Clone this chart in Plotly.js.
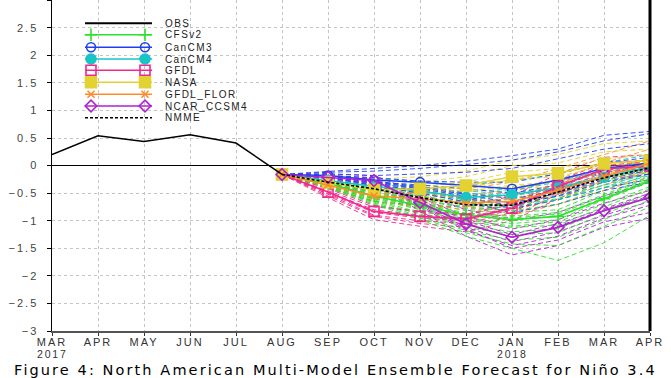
<!DOCTYPE html>
<html>
<head>
<meta charset="utf-8">
<script src="https://cdn.plot.ly/plotly-3.0.1.min.js"></script>
<style>
html,body{margin:0;padding:0;background:#fff;}
#chart{width:671px;height:378px;}
.xtick text, .ytick text{letter-spacing:2px;}
</style>
</head>
<body>
<div id="chart"></div>
<script>
// ---------- DATA ----------
const months = ['MAR','APR','MAY','JUN','JUL','AUG','SEP','OCT','NOV','DEC','JAN','FEB','MAR','APR'];
const yearLabels = ['2017','2018'];
const yearMonthIndex = [0,10];
const obsMonths = [0,1,2,3,4,5];           // MAR..AUG 2017
const obsValues = [0.20,0.54,0.44,0.56,0.41,-0.16];
const fcstMonths = [5,6,7,8,9,10,11,12,13]; // AUG 2017 .. APR 2018

const cfsv2Mean = [-0.16,-0.32,-0.55,-0.72,-0.90,-0.98,-0.92,-0.60,-0.28];
const cancm3Mean = [-0.16,-0.18,-0.26,-0.30,-0.36,-0.42,-0.26,-0.05,0.05];
const cancm4Mean = [-0.16,-0.27,-0.38,-0.46,-0.58,-0.53,-0.40,-0.21,-0.02];
const gfdlMean = [-0.16,-0.48,-0.83,-0.92,-0.97,-0.77,-0.38,-0.06,0.00];
const nasaMean = [-0.16,-0.30,-0.44,-0.42,-0.36,-0.20,-0.14,0.04,0.09];
const florMean = [-0.16,-0.35,-0.55,-0.60,-0.68,-0.65,-0.45,-0.20,0.05];
const ncarMean = [-0.16,-0.21,-0.27,-0.67,-1.06,-1.30,-1.12,-0.82,-0.58];
const nmmeMean = [-0.16,-0.30,-0.42,-0.58,-0.71,-0.72,-0.48,-0.22,-0.04];

const cfsv2Members = [
 [-0.16,-0.25,-0.40,-0.50,-0.62,-0.65,-0.55,-0.25,0.05],
 [-0.16,-0.28,-0.45,-0.58,-0.70,-0.78,-0.62,-0.35,-0.05],
 [-0.16,-0.30,-0.50,-0.65,-0.82,-0.85,-0.80,-0.45,-0.15],
 [-0.16,-0.32,-0.55,-0.72,-0.90,-0.98,-0.92,-0.58,-0.25],
 [-0.16,-0.34,-0.58,-0.78,-0.98,-1.10,-1.02,-0.70,-0.38],
 [-0.16,-0.36,-0.62,-0.85,-1.08,-1.20,-1.15,-0.82,-0.50],
 [-0.16,-0.38,-0.66,-0.92,-1.18,-1.35,-1.30,-0.98,-0.62],
 [-0.16,-0.40,-0.70,-0.98,-1.28,-1.50,-1.72,-1.40,-0.90],
 [-0.16,-0.33,-0.56,-0.75,-0.95,-1.05,-0.98,-0.62,-0.30],
 [-0.16,-0.31,-0.52,-0.68,-0.86,-0.92,-0.85,-0.52,-0.20],
 [-0.16,-0.29,-0.48,-0.62,-0.75,-0.82,-0.70,-0.40,-0.10],
 [-0.16,-0.35,-0.60,-0.80,-1.02,-1.12,-1.08,-0.75,-0.42],
 [-0.16,-0.37,-0.64,-0.88,-1.12,-1.25,-1.22,-0.88,-0.55],
 [-0.16,-0.27,-0.42,-0.55,-0.68,-0.72,-0.60,-0.30,0.00],
 [-0.16,-0.39,-0.68,-0.95,-1.22,-1.42,-1.45,-1.10,-0.75],
 [-0.16,-0.32,-0.54,-0.70,-0.88,-0.95,-0.88,-0.55,-0.22]
];
const cancm3Members = [
 [-0.16,-0.10,-0.05,0.00,0.08,0.18,0.30,0.55,0.62],
 [-0.16,-0.12,-0.10,-0.05,0.02,0.10,0.25,0.45,0.58],
 [-0.16,-0.15,-0.18,-0.15,-0.12,-0.05,0.12,0.30,0.40],
 [-0.16,-0.18,-0.22,-0.28,-0.30,-0.30,-0.15,0.05,0.15],
 [-0.16,-0.20,-0.30,-0.35,-0.42,-0.50,-0.35,-0.12,0.00],
 [-0.16,-0.17,-0.28,-0.38,-0.50,-0.60,-0.45,-0.20,-0.05],
 [-0.16,-0.22,-0.35,-0.45,-0.60,-0.72,-0.55,-0.30,-0.15],
 [-0.16,-0.20,-0.32,-0.42,-0.55,-0.78,-0.62,-0.40,-0.25],
 [-0.16,-0.19,-0.30,-0.40,-0.52,-0.68,-0.50,-0.25,-0.08],
 [-0.16,-0.21,-0.36,-0.50,-0.66,-0.85,-0.70,-0.45,-0.30]
];
const cancm4Members = [
 [-0.16,-0.20,-0.25,-0.28,-0.35,-0.28,-0.15,0.05,0.20],
 [-0.16,-0.24,-0.32,-0.38,-0.48,-0.42,-0.28,-0.08,0.12],
 [-0.16,-0.26,-0.36,-0.44,-0.56,-0.50,-0.38,-0.18,0.00],
 [-0.16,-0.30,-0.42,-0.50,-0.65,-0.60,-0.48,-0.30,-0.10],
 [-0.16,-0.32,-0.45,-0.55,-0.72,-0.70,-0.56,-0.35,-0.15],
 [-0.16,-0.28,-0.40,-0.48,-0.62,-0.55,-0.42,-0.22,-0.05],
 [-0.16,-0.25,-0.35,-0.40,-0.52,-0.45,-0.30,-0.12,0.05],
 [-0.16,-0.33,-0.48,-0.60,-0.78,-0.75,-0.62,-0.40,-0.18]
];
const gfdlMembers = [
 [-0.16,-0.40,-0.65,-0.72,-0.75,-0.55,-0.15,0.15,0.20],
 [-0.16,-0.45,-0.75,-0.82,-0.88,-0.68,-0.28,0.05,0.10],
 [-0.16,-0.50,-0.85,-0.95,-1.00,-0.80,-0.40,-0.08,-0.02],
 [-0.16,-0.55,-0.92,-1.05,-1.12,-0.92,-0.52,-0.18,-0.10],
 [-0.16,-0.58,-0.98,-1.10,-1.20,-1.00,-0.60,-0.25,-0.15],
 [-0.16,-0.48,-0.80,-0.90,-0.95,-0.75,-0.35,-0.02,0.05],
 [-0.16,-0.42,-0.72,-0.85,-0.90,-0.70,-0.30,0.00,0.08],
 [-0.16,-0.52,-0.90,-1.00,-1.05,-0.85,-0.45,-0.12,-0.05]
];
const nasaMembers = [
 [-0.16,-0.20,-0.25,-0.20,-0.10,0.10,0.20,0.40,0.45],
 [-0.16,-0.25,-0.35,-0.30,-0.20,0.00,0.05,0.25,0.30],
 [-0.16,-0.28,-0.40,-0.38,-0.30,-0.12,-0.05,0.12,0.20],
 [-0.16,-0.32,-0.48,-0.45,-0.40,-0.25,-0.20,0.00,0.05],
 [-0.16,-0.35,-0.52,-0.52,-0.48,-0.35,-0.30,-0.10,-0.05],
 [-0.16,-0.34,-0.55,-0.58,-0.55,-0.42,-0.38,-0.22,-0.12],
 [-0.16,-0.30,-0.45,-0.48,-0.45,-0.38,-0.30,-0.15,-0.02],
 [-0.16,-0.36,-0.52,-0.45,-0.40,-0.25,-0.12,0.05,0.10]
];
const florMembers = [
 [-0.16,-0.28,-0.42,-0.40,-0.42,-0.30,-0.05,0.20,0.45],
 [-0.16,-0.32,-0.50,-0.52,-0.55,-0.48,-0.25,0.05,0.30],
 [-0.16,-0.35,-0.55,-0.60,-0.68,-0.65,-0.45,-0.18,0.08],
 [-0.16,-0.38,-0.60,-0.70,-0.80,-0.80,-0.62,-0.35,-0.10],
 [-0.16,-0.40,-0.65,-0.75,-0.88,-0.90,-0.70,-0.45,-0.20],
 [-0.16,-0.36,-0.58,-0.65,-0.75,-0.72,-0.52,-0.28,-0.02],
 [-0.16,-0.30,-0.48,-0.50,-0.60,-0.55,-0.35,-0.10,0.15],
 [-0.16,-0.34,-0.52,-0.58,-0.66,-0.60,-0.42,-0.15,0.12]
];
const ncarMembers = [
 [-0.16,-0.15,-0.18,-0.50,-0.80,-1.00,-0.85,-0.55,-0.30],
 [-0.16,-0.18,-0.22,-0.58,-0.92,-1.15,-0.98,-0.68,-0.45],
 [-0.16,-0.20,-0.26,-0.65,-1.05,-1.30,-1.10,-0.80,-0.55],
 [-0.16,-0.24,-0.32,-0.75,-1.18,-1.45,-1.28,-0.95,-0.72],
 [-0.16,-0.26,-0.36,-0.82,-1.28,-1.62,-1.45,-1.12,-0.95],
 [-0.16,-0.22,-0.28,-0.70,-1.12,-1.38,-1.20,-0.90,-0.65],
 [-0.16,-0.20,-0.25,-0.62,-1.00,-1.25,-1.05,-0.78,-0.50],
 [-0.16,-0.25,-0.30,-0.72,-1.15,-1.50,-1.35,-1.02,-0.85]
];

const modelNames = ['CFSv2','CanCM3','CanCM4','GFDL','NASA','GFDL_FLOR','NCAR_CCSM4'];
const modelColors = ['#2ee02e','#2040f0','#18c4c4','#f0288c','#e2d232','#ff8a2a','#b020d0'];

// ---------- BUILD ----------
const styles = [
  {symbol:'cross-thin-open', size:9, lw:1.6},
  {symbol:'circle-open', size:9, lw:1.5},
  {symbol:'circle', size:10, lw:1.5},
  {symbol:'square-open', size:10, lw:1.6},
  {symbol:'square', size:11, lw:1.5},
  {symbol:'x-thin-open', size:7, lw:1.5},
  {symbol:'diamond-open', size:9, lw:1.6}
];
const means = [cfsv2Mean, cancm3Mean, cancm4Mean, gfdlMean, nasaMean, florMean, ncarMean];
const memberSets = [cfsv2Members, cancm3Members, cancm4Members, gfdlMembers, nasaMembers, florMembers, ncarMembers];
const models = modelNames.map((n,i)=>Object.assign({name:n, color:modelColors[i], mean:means[i], members:memberSets[i]}, styles[i]));

const traces = [];
const maxM = Math.max(...models.map(m=>m.members.length));
for (let i=0;i<maxM;i++){
  models.forEach(m=>{
    if (i < m.members.length){
      traces.push({x:fcstMonths, y:m.members[i], type:'scatter', mode:'lines', showlegend:false,
        hoverinfo:'skip', line:{color:m.color, width:1, dash:'5px,3px'}, opacity:0.9});
    }
  });
}
models.forEach(m=>{
  traces.push({x:fcstMonths, y:m.mean, type:'scatter', mode:'lines+markers', name:m.name, showlegend:false,
    line:{color:m.color, width:m.lw},
    marker:{symbol:m.symbol, size:m.size, color:m.color, line:{color:m.color, width:1.6}}});
});
traces.push({x:fcstMonths, y:nmmeMean, type:'scatter', mode:'lines', name:'NMME', showlegend:false,
  line:{color:'#000', width:1.6, dash:'3px,2px'}});
traces.push({x:obsMonths, y:obsValues, type:'scatter', mode:'lines', name:'OBS', showlegend:false,
  line:{color:'#000', width:1.5}});

// ---------- LEGEND (drawn on a pixel overlay axis) ----------
const legendItems = [
  {name:'OBS', color:'#000', symbol:null, dash:'solid', w:2},
  ...models.map(m=>({name:m.name, color:m.color, symbol:m.symbol, size:m.size, dash:'solid', w:m.lw})),
  {name:'NMME', color:'#000', symbol:null, dash:'3px,2px', w:1.5}
];
const legendRows = [23.3,34.7,47.3,59,70.3,82.3,94.3,106,117.7];
const annotations = [];
legendItems.forEach((it,k)=>{
  const yy = legendRows[k];
  traces.push({x:[85,152], y:[yy,yy], xaxis:'x2', yaxis:'y2', type:'scatter', mode:'lines', showlegend:false,
    hoverinfo:'skip', line:{color:it.color, width:it.w, dash:it.dash}});
  if (it.symbol){
    traces.push({x:[91,145], y:[yy,yy], xaxis:'x2', yaxis:'y2', type:'scatter', mode:'markers', showlegend:false,
      hoverinfo:'skip', marker:{symbol:it.symbol, size:it.size, color:it.color, line:{color:it.color, width:1.6}}});
  }
  annotations.push({xref:'x2', yref:'y2', x:163, y:yy, xanchor:'left', yanchor:'middle', showarrow:false,
    text:'<span style="letter-spacing:1.4px">'+it.name+'</span>',
    font:{family:'Liberation Sans, Arial, sans-serif', size:10, color:'#222'}});
});

// year labels under the month ticks
yearLabels.forEach((yl,i)=>{
  annotations.push({xref:'x', yref:'paper', x:yearMonthIndex[i], y:-0.069, xanchor:'center', yanchor:'middle',
    showarrow:false, borderpad:0, text:'<span style="letter-spacing:1.8px">'+yl+'</span>',
    font:{family:'Liberation Sans, Arial, sans-serif', size:10.5, color:'#333'}});
});

annotations.push({xref:'paper', yref:'paper', x:0.474, y:-0.117, xanchor:'center', yanchor:'middle', showarrow:false,
  borderpad:0,
  text:'<span style="letter-spacing:2.1px">Figure 4: North American Multi-Model Ensemble Forecast for Niño 3.4</span>',
  font:{family:'DejaVu Sans, sans-serif', size:14.5, color:'#000'}});

const yTicks = [-3,-2.5,-2,-1.5,-1,-0.5,0,0.5,1,1.5,2,2.5,3];

const layout = {
  width:671, height:378,
  margin:{l:52, r:21, t:0, b:47, pad:0},
  paper_bgcolor:'#fff', plot_bgcolor:'#fff',
  showlegend:false,
  font:{family:'Liberation Sans, Arial, sans-serif', size:11, color:'#333'},
  xaxis:{range:[0,13], tickvals:months.map((_,i)=>i), ticktext:months, tickangle:0,
    showgrid:true, gridcolor:'#c4c4c4', griddash:'dot', gridwidth:1,
    zeroline:false, showline:true, linecolor:'#555', linewidth:2,
    ticks:'outside', ticklen:3, tickcolor:'#333', ticklabelstandoff:-3,
    tickfont:{size:11, color:'#333'}, fixedrange:true},
  yaxis:{range:[-3,3.005], tickvals:yTicks, showgrid:true, gridcolor:'#c4c4c4', griddash:'dot', gridwidth:1,
    zeroline:true, zerolinecolor:'#000', zerolinewidth:1,
    showline:true, linecolor:'#000', linewidth:1.5,
    ticks:'outside', ticklen:4, tickcolor:'#000', ticklabelstandoff:6,
    tickfont:{size:11, color:'#444'}, fixedrange:true},
  xaxis2:{overlaying:'x', range:[52,650], visible:false, fixedrange:true},
  yaxis2:{overlaying:'y', range:[331,0], visible:false, fixedrange:true},
  shapes:[
    {type:'line', xref:'paper', yref:'paper', x0:1, x1:1, y0:0, y1:1, line:{color:'#000', width:3}}
  ],
  annotations:annotations
};

Plotly.newPlot('chart', traces, layout, {staticPlot:true, displayModeBar:false});
</script>
</body>
</html>
